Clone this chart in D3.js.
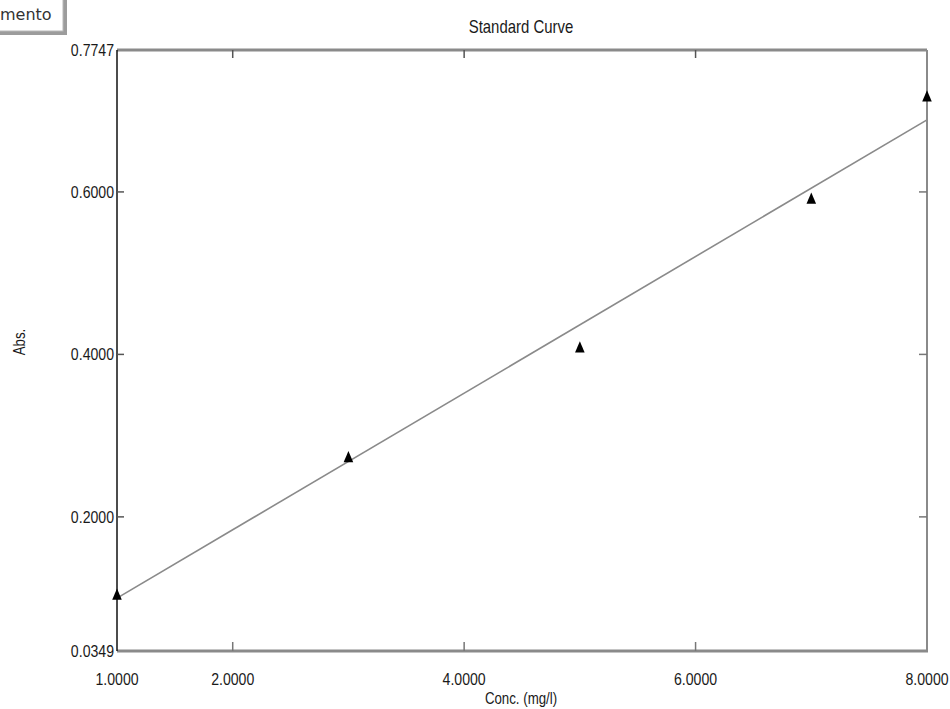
<!DOCTYPE html>
<html>
<head>
<meta charset="utf-8">
<script src="https://cdn.jsdelivr.net/npm/d3@7"></script>
<style>
  html, body { margin: 0; padding: 0; background: #fff; }
  svg { display: block; }
  .lbl { font-family: "Liberation Sans", Arial, sans-serif; fill: #1a1a1a; }
</style>
</head>
<body>
<svg id="chart" width="950" height="709"></svg>
<script>
// ---- data ----
const concentrations = [1, 3, 5, 7, 8];
const absorbances = [0.1025, 0.272, 0.407, 0.590, 0.716];
const fitIntercept = 0.0159;
const fitSlope = 0.0841;
const xTickValues = [1, 2, 4, 6, 8];
const yTickValues = [0.0349, 0.2, 0.4, 0.6, 0.7747];
const xDomain = [1, 8];
const yDomain = [0.0349, 0.7747];
const titleText = "Standard Curve";
const xTitle = "Conc. (mg/l)";
const yTitle = "Abs.";
const tabText = "mento";

const svg = d3.select("#chart");
const L = 117, R = 927, T = 50, B = 651;
const x = d3.scaleLinear().domain(xDomain).range([L, R]);
const y = d3.scaleLinear().domain(yDomain).range([B, T]);
const fmt = d3.format(".4f");
const SX = 0.83; // narrow font emulation

function narrowText(sel, px, py, size, anchor, rot) {
  return sel.attr("class", "lbl")
    .attr("transform", (d, i) => {
      const X = typeof px === "function" ? px(d, i) : px;
      const Y = typeof py === "function" ? py(d, i) : py;
      return `translate(${X},${Y})` + (rot ? ` rotate(${rot})` : "") + ` scale(${SX},1)`;
    })
    .attr("text-anchor", anchor).attr("font-size", size);
}

// tab box top-left
svg.append("rect").attr("x", -2).attr("y", -2).attr("width", 69).attr("height", 37).attr("fill", "#9c9c9c");
svg.append("rect").attr("x", -2).attr("y", -2).attr("width", 65).attr("height", 33).attr("fill", "#fff").attr("stroke", "#b8b8b8").attr("stroke-width", 1);
svg.append("text").attr("x", 0).attr("y", 20).attr("font-family", "'DejaVu Sans', sans-serif")
  .attr("font-size", 16).attr("fill", "#333").text(tabText);

// title
narrowText(svg.append("text"), 521, 33, 18, "middle").text(titleText);

// frame
svg.append("line").attr("x1", L).attr("x2", R).attr("y1", T).attr("y2", T).attr("stroke", "#8a8a8a").attr("stroke-width", 3);
svg.append("line").attr("x1", L).attr("x2", R + 1).attr("y1", B).attr("y2", B).attr("stroke", "#8a8a8a").attr("stroke-width", 3);
svg.append("line").attr("x1", R).attr("x2", R).attr("y1", T).attr("y2", B).attr("stroke", "#8a8a8a").attr("stroke-width", 2);
svg.append("line").attr("x1", L).attr("x2", L).attr("y1", T).attr("y2", B).attr("stroke", "#111").attr("stroke-width", 1.5);

// inner ticks
const innerY = yTickValues.slice(1, -1);
const innerX = xTickValues.slice(1, -1);
svg.selectAll(".tl").data(innerY).join("line").attr("x1", L).attr("x2", L + 7)
  .attr("y1", d => y(d)).attr("y2", d => y(d)).attr("stroke", "#555").attr("stroke-width", 1.5);
svg.selectAll(".tr").data(innerY).join("line").attr("x1", R).attr("x2", R - 8)
  .attr("y1", d => y(d)).attr("y2", d => y(d)).attr("stroke", "#777").attr("stroke-width", 1.5);
svg.selectAll(".tb").data(innerX).join("line").attr("x1", d => x(d)).attr("x2", d => x(d))
  .attr("y1", B).attr("y2", B - 9).attr("stroke", "#777").attr("stroke-width", 1.5);
svg.selectAll(".tt").data(innerX).join("line").attr("x1", d => x(d)).attr("x2", d => x(d))
  .attr("y1", T).attr("y2", T + 8).attr("stroke", "#555").attr("stroke-width", 1.5);

// tick labels
narrowText(svg.selectAll(".yl").data(yTickValues).join("text"), L - 3, d => y(d) + 6, 17, "end")
  .text(d => fmt(d));
narrowText(svg.selectAll(".xl").data(xTickValues).join("text"), d => x(d), 685, 17, "middle")
  .text(d => fmt(d));

// axis titles
narrowText(svg.append("text"), 521, 704, 16, "middle").text(xTitle);
narrowText(svg.append("text"), 25, 342, 16, "middle", -90).text(yTitle);

// fit line
svg.append("line")
  .attr("x1", x(xDomain[0])).attr("y1", y(fitIntercept + fitSlope * xDomain[0]))
  .attr("x2", x(xDomain[1])).attr("y2", y(fitIntercept + fitSlope * xDomain[1]))
  .attr("stroke", "#8a8a8a").attr("stroke-width", 1.6);

// points
const tri = d3.symbol().type(d3.symbolTriangle).size(55)();
svg.selectAll(".pt").data(concentrations.map((c, i) => [c, absorbances[i]])).join("path")
  .attr("d", tri)
  .attr("transform", d => `translate(${x(d[0])},${y(d[1])}) scale(0.85,1.15)`)
  .attr("fill", "#000");
</script>
</body>
</html>
